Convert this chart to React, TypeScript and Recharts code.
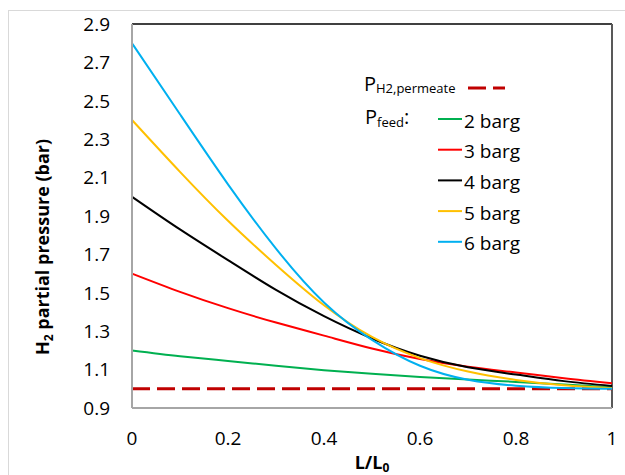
import React from 'react';
import { LineChart, Line, XAxis, YAxis, ReferenceLine } from 'recharts';

const xValues = [0, 0.1, 0.2, 0.3, 0.4, 0.5, 0.6, 0.7, 0.8, 0.9, 1.0];
const p2barg = [1.2, 1.17, 1.145, 1.12, 1.097, 1.078, 1.062, 1.048, 1.036, 1.022, 1.008];
const p3barg = [1.6, 1.505, 1.42, 1.345, 1.277, 1.21, 1.155, 1.115, 1.085, 1.055, 1.029];
const p4barg = [2.0, 1.83, 1.67, 1.515, 1.378, 1.262, 1.172, 1.112, 1.074, 1.04, 1.015];
const p5barg = [2.4, 2.13, 1.875, 1.645, 1.435, 1.27, 1.16, 1.09, 1.046, 1.018, 1.003];
const p6barg = [2.8, 2.43, 2.065, 1.73, 1.45, 1.255, 1.12, 1.047, 1.016, 1.004, 1.0];
const pPermeate = [1.0, 1.0, 1.0, 1.0, 1.0, 1.0, 1.0, 1.0, 1.0, 1.0, 1.0];

const xTicks = [0, 0.2, 0.4, 0.6, 0.8, 1];
const yTicks = [0.9, 1.1, 1.3, 1.5, 1.7, 1.9, 2.1, 2.3, 2.5, 2.7, 2.9];

const seriesKeys = ['p2', 'p3', 'p4', 'p5', 'p6'];
const seriesLabels = ['2 barg', '3 barg', '4 barg', '5 barg', '6 barg'];
const seriesColors = ['#00B050', '#FF0000', '#000000', '#FFC000', '#00B0F0'];
const seriesValues = [p2barg, p3barg, p4barg, p5barg, p6barg];

const data = xValues.map((x, i) => {
  const row: Record<string, number> = { x, perm: pPermeate[i] };
  seriesKeys.forEach((k, j) => {
    row[k] = seriesValues[j][i];
  });
  return row;
});

const FONT = "'Open Sans', sans-serif";

export default function App() {
  return (
    <div style={{ position: 'absolute', left: 0, top: 0, width: 625, height: 475, background: '#fff', overflow: 'hidden' }}>
      <div style={{ position: 'absolute', left: 8, top: 10, width: 620, height: 470, borderTop: '1px solid #D9D9D9', borderLeft: '1px solid #D9D9D9' }} />
      <div style={{ position: 'absolute', left: 0, top: 0 }}>
        <LineChart width={625} height={475} data={data} margin={{ top: 24, right: 13, bottom: 37, left: 72 }}>
          <XAxis
            dataKey="x"
            type="number"
            domain={[0, 1]}
            ticks={xTicks}
            interval={0}
            tickFormatter={(v: number) => String(v)}
            axisLine={{ stroke: '#A6A6A6', strokeWidth: 2 }}
            tickLine={false}
            tickSize={0}
            tickMargin={24}
            height={30}
            tick={{ fill: '#000', fontSize: 19, fontFamily: FONT }}
          />
          <YAxis
            type="number"
            domain={[0.9, 2.9]}
            ticks={yTicks}
            interval={0}
            tickFormatter={(v: number) => v.toFixed(1)}
            axisLine={{ stroke: '#A6A6A6', strokeWidth: 2 }}
            tickLine={false}
            tickSize={0}
            tickMargin={22}
            width={60}
            tick={{ fill: '#000', fontSize: 19, fontFamily: FONT }}
          />
          <ReferenceLine y={2.9} stroke="#404040" strokeWidth={2} ifOverflow="extendDomain" />
          <ReferenceLine x={1} stroke="#595959" strokeWidth={2} ifOverflow="extendDomain" />
          <Line dataKey="perm" type="linear" stroke="#C00000" strokeWidth={3} strokeDasharray="18 7" dot={false} isAnimationActive={false} />
          {seriesKeys.map((k, j) => (
            <Line key={k} dataKey={k} type="natural" stroke={seriesColors[j]} strokeWidth={2} dot={false} isAnimationActive={false} />
          ))}
        </LineChart>
      </div>
      <svg width={625} height={475} style={{ position: 'absolute', left: 0, top: 0, pointerEvents: 'none' }}>
        <g fontFamily={FONT} fill="#000">
          <text transform="translate(48.5,247) rotate(-90)" textAnchor="middle" fontSize={18} fontWeight="bold">
            <tspan>H</tspan>
            <tspan fontSize={12} dy={4}>2</tspan>
            <tspan dy={-4}> partial pressure (bar)</tspan>
          </text>
          <text x={372} y={469} textAnchor="middle" fontSize={18} fontWeight="bold">
            <tspan>L/L</tspan>
            <tspan fontSize={12} dy={3}>0</tspan>
          </text>
          <text x={364} y={90.7} fontSize={20}>
            <tspan>P</tspan>
            <tspan fontSize={13} dy={2.6}>H2,permeate</tspan>
          </text>
          <line x1={468} x2={505} y1={88} y2={88} stroke="#C00000" strokeWidth={3} strokeDasharray="18 7" />
          <text x={365} y={124} fontSize={20}>
            <tspan>P</tspan>
            <tspan fontSize={13} dy={3}>feed</tspan>
            <tspan dy={-3}>:</tspan>
          </text>
          {seriesLabels.map((lab, j) => {
            const y = 119 + j * 30.7;
            return (
              <g key={lab}>
                <line x1={438} x2={462} y1={y} y2={y} stroke={seriesColors[j]} strokeWidth={2} />
                <text x={464} y={y + 8.5} fontSize={19}>{lab}</text>
              </g>
            );
          })}
        </g>
      </svg>
    </div>
  );
}
